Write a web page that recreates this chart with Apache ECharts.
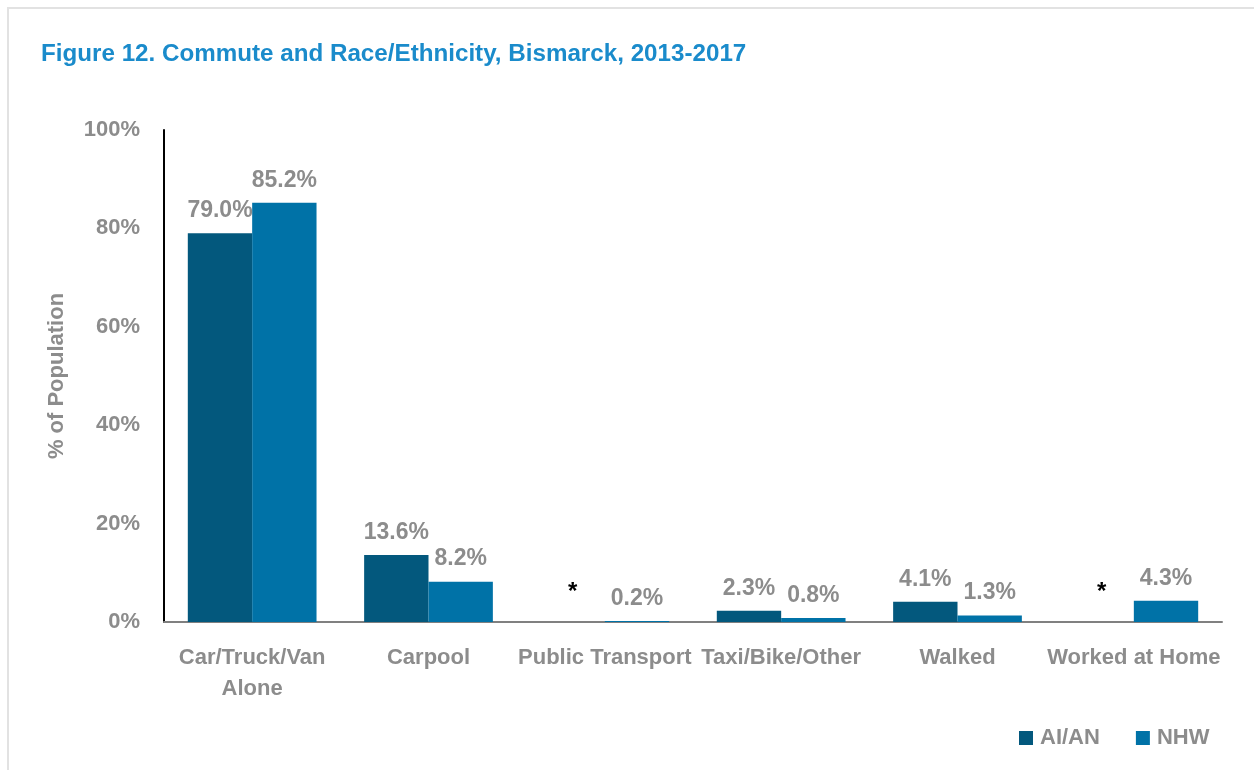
<!DOCTYPE html>
<html>
<head>
<meta charset="utf-8">
<script src="https://cdn.jsdelivr.net/npm/echarts@6/dist/echarts.min.js"></script>
<style>
html,body{margin:0;padding:0;background:#fff;}
#c{width:1254px;height:770px;}
</style>
</head>
<body>
<div id="c"></div>
<script>
const categories = ['Car/Truck/Van\nAlone', 'Carpool', 'Public Transport', 'Taxi/Bike/Other', 'Walked', 'Worked at Home'];
const aianValues = [79.0, 13.6, null, 2.3, 4.1, null];
const nhwValues = [85.2, 8.2, 0.2, 0.8, 1.3, 4.3];
const yTicks = [0, 20, 40, 60, 80, 100];
const seriesNames = ['AI/AN', 'NHW'];

const FONT = '"Liberation Sans Narrow", "Arial Narrow", "Liberation Sans", sans-serif';
const GRAY = '#8c8c8c';

function buildData(vals) {
  return vals.map(v => v === null
    ? { value: 0, label: { formatter: '*', color: '#000', fontSize: 24, offset: [0, -7] } }
    : v);
}

const chart = echarts.init(document.getElementById('c'));
chart.setOption({
  animation: false,
  textStyle: { fontFamily: FONT },
  graphic: [{
    type: 'rect',
    shape: { x: 8, y: 8, width: 1260, height: 780 },
    style: { fill: 'none', stroke: '#e2e2e2', lineWidth: 2 },
    silent: true
  }],
  title: {
    text: 'Figure 12. Commute and Race/Ethnicity, Bismarck, 2013-2017',
    left: 36, top: 37,
    textStyle: { fontFamily: FONT, fontSize: 24.2, fontWeight: 'bold', color: '#1a8bcb' }
  },
  legend: {
    data: seriesNames,
    left: 1014, top: 722,
    itemWidth: 14, itemHeight: 14, itemGap: 36,
    icon: 'rect',
    textStyle: { fontFamily: FONT, fontSize: 22, fontWeight: 'bold', color: GRAY, padding: [0, 0, 0, 2] }
  },
  grid: { left: 164, right: 32, top: 130, bottom: 148 },
  xAxis: {
    type: 'category',
    data: categories,
    axisLine: { lineStyle: { color: '#808080', width: 2 } },
    axisTick: { show: false },
    axisLabel: {
      fontFamily: FONT, fontSize: 22, fontWeight: 'bold', color: GRAY,
      margin: 20, lineHeight: 31, interval: 0
    }
  },
  yAxis: {
    type: 'value',
    min: 0, max: 100, interval: 20,
    name: '% of Population',
    nameLocation: 'middle',
    nameGap: 96,
    nameRotate: 90,
    nameTextStyle: { fontFamily: FONT, fontSize: 22, fontWeight: 'bold', color: GRAY },
    axisLine: { show: true, lineStyle: { color: '#000', width: 2 } },
    axisTick: { show: false },
    splitLine: { show: false },
    axisLabel: {
      fontFamily: FONT, fontSize: 22, fontWeight: 'bold', color: GRAY, margin: 24,
      formatter: v => yTicks.includes(v) ? v + '%' : ''
    }
  },
  series: [
    {
      name: seriesNames[0], type: 'bar',
      data: buildData(aianValues),
      itemStyle: { color: '#03587d' },
      barGap: '0%', barCategoryGap: '27%',
      label: {
        show: true, position: 'top', distance: 11,
        fontFamily: FONT, fontSize: 23, fontWeight: 'bold', color: GRAY,
        formatter: p => p.value.toFixed(1) + '%'
      }
    },
    {
      name: seriesNames[1], type: 'bar',
      data: buildData(nhwValues),
      itemStyle: { color: '#0072a7' },
      barGap: '0%', barCategoryGap: '27%',
      label: {
        show: true, position: 'top', distance: 11,
        fontFamily: FONT, fontSize: 23, fontWeight: 'bold', color: GRAY,
        formatter: p => p.value.toFixed(1) + '%'
      }
    }
  ]
});
</script>
</body>
</html>
